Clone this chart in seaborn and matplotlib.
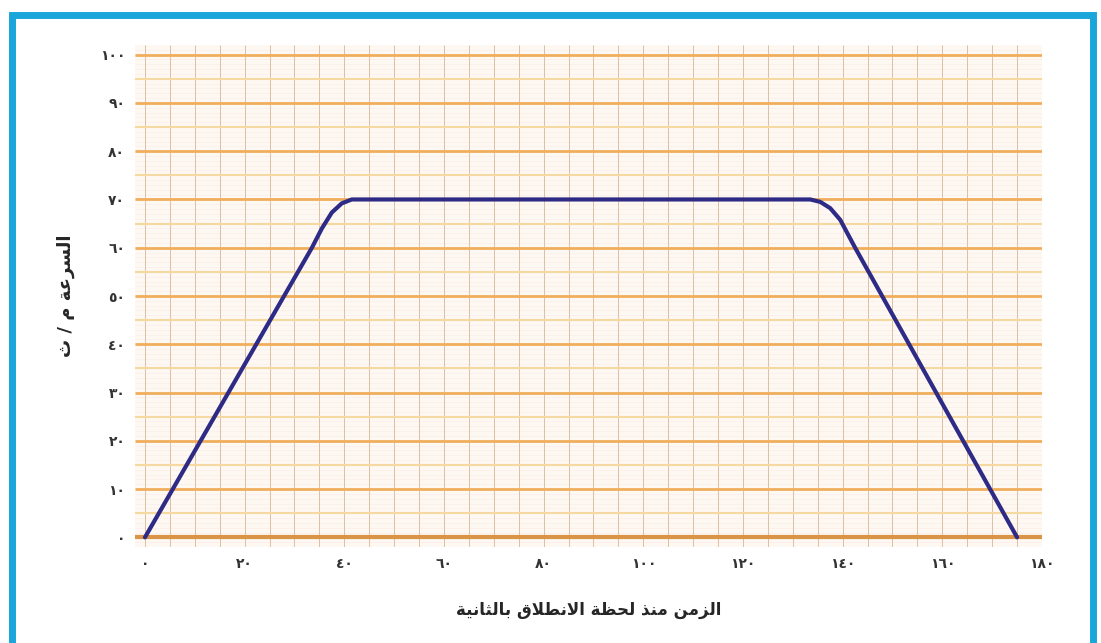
import numpy as np
import pandas as pd
import seaborn as sns
import matplotlib.pyplot as plt
from matplotlib.patches import Rectangle

# speed (m/s) against time since departure (s)
time_s = [0, 33.5, 35.5, 37.5, 39.5, 41.5, 133.5, 135.5, 137.5, 139.5, 142.5, 175]
speed = [0, 60, 64, 67.3, 69.2, 70, 70, 69.5, 68.2, 65.8, 60, 0]

x_ticks = [0, 20, 40, 60, 80, 100, 120, 140, 160, 180]
y_ticks = [0, 10, 20, 30, 40, 50, 60, 70, 80, 90, 100]

x_label = "الزمن منذ لحظة الانطلاق بالثانية"
y_label = "السرعة م / ث"

# isolated, final, initial, medial presentation forms
FORMS = {
    'ا': ('\uFE8D', '\uFE8E', None, None),
    'ب': ('\uFE8F', '\uFE90', '\uFE91', '\uFE92'),
    'ة': ('\uFE93', '\uFE94', None, None),
    'ث': ('\uFE99', '\uFE9A', '\uFE9B', '\uFE9C'),
    'ح': ('\uFEA1', '\uFEA2', '\uFEA3', '\uFEA4'),
    'ذ': ('\uFEAB', '\uFEAC', None, None),
    'ر': ('\uFEAD', '\uFEAE', None, None),
    'ز': ('\uFEAF', '\uFEB0', None, None),
    'س': ('\uFEB1', '\uFEB2', '\uFEB3', '\uFEB4'),
    'ط': ('\uFEC1', '\uFEC2', '\uFEC3', '\uFEC4'),
    'ظ': ('\uFEC5', '\uFEC6', '\uFEC7', '\uFEC8'),
    'ع': ('\uFEC9', '\uFECA', '\uFECB', '\uFECC'),
    'ق': ('\uFED5', '\uFED6', '\uFED7', '\uFED8'),
    'ل': ('\uFEDD', '\uFEDE', '\uFEDF', '\uFEE0'),
    'م': ('\uFEE1', '\uFEE2', '\uFEE3', '\uFEE4'),
    'ن': ('\uFEE5', '\uFEE6', '\uFEE7', '\uFEE8'),
    'ي': ('\uFEF1', '\uFEF2', '\uFEF3', '\uFEF4'),
}
DIGITS = str.maketrans('0123456789', '٠١٢٣٤٥٦٧٨٩')


def joins_next(c):
    return c in FORMS and FORMS[c][2] is not None


def shape(text):
    # matplotlib has no arabic shaping, so join letters and reverse by hand
    out = []
    i = 0
    while i < len(text):
        c = text[i]
        prev = text[i - 1] if i > 0 else ''
        if c == 'ل' and i + 1 < len(text) and text[i + 1] == 'ا':
            out.append('\uFEFC' if joins_next(prev) else '\uFEFB')
            i += 2
            continue
        if c not in FORMS:
            out.append(c)
            i += 1
            continue
        nxt = text[i + 1] if i + 1 < len(text) else ''
        p = joins_next(prev)
        n = nxt in FORMS and FORMS[c][2] is not None
        iso, fin, ini, med = FORMS[c]
        if p and n:
            out.append(med)
        elif p:
            out.append(fin)
        elif n:
            out.append(ini)
        else:
            out.append(iso)
        i += 1
    return ''.join(reversed(out))


def main():
    sns.set_style('white')
    plt.rcParams['font.family'] = ['DejaVu Sans']

    df = pd.DataFrame({'time': time_s, 'speed': speed})

    fig = plt.figure(figsize=(11.01, 6.43), dpi=100)
    fig.patch.set_facecolor('white')
    ax = fig.add_axes([135 / 1101, 1 - 547 / 643, 907 / 1101, 502 / 643])
    ax.set_facecolor('#fef8f3')

    # faint pink lines, then the orange grid
    ax.hlines(np.arange(-1, 102, 1), -2, 180, color='#fbeaea', lw=0.4, zorder=0)
    ax.vlines(np.arange(0, 181, 5), -2, 102, color='#dcc0a4', lw=0.7, zorder=1)
    ax.hlines(np.arange(5, 100, 10), -2, 180, color='#f6d9a0', lw=1.5, zorder=1)
    ax.hlines(np.arange(10, 101, 10), -2, 180, color='#f0ae5c', lw=2.0, zorder=1)
    ax.hlines(0, -2, 180, color='#d99445', lw=3.0, zorder=1)

    sns.lineplot(data=df, x='time', y='speed', ax=ax, color='#2d2b86',
                 lw=3.0, zorder=3, sort=False)

    ax.set_xlim(-2, 180)
    ax.set_ylim(-2, 102)
    ax.set_xticks(x_ticks)
    ax.set_xticklabels([str(v).translate(DIGITS) for v in x_ticks],
                       fontsize=10, fontweight='bold', color='#333333')
    ax.set_yticks(y_ticks)
    ax.set_yticklabels([str(v).translate(DIGITS) for v in y_ticks],
                       fontsize=10, fontweight='bold', color='#333333')
    ax.tick_params(length=0, pad=7)
    for s in ax.spines.values():
        s.set_visible(False)

    ax.set_xlabel(shape(x_label), fontsize=12, fontweight='bold', labelpad=22)
    ax.set_ylabel(shape(y_label), fontsize=13, fontweight='bold', labelpad=18)

    fig.patches.append(Rectangle((12 / 1101, -0.05), (1093 - 12) / 1101, 1.05 - 15 / 643,
                                 transform=fig.transFigure, fill=False,
                                 edgecolor='#1ba6db', lw=5, zorder=10))

    fig.savefig('out.png', dpi=100)


if __name__ == '__main__':
    main()
